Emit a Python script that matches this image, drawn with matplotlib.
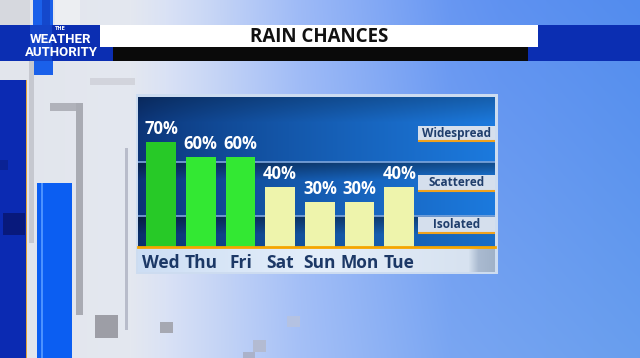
import numpy as np
import matplotlib
matplotlib.use('Agg')
import matplotlib.pyplot as plt
from matplotlib.patches import Rectangle

# chart data
days = ['Wed', 'Thu', 'Fri', 'Sat', 'Sun', 'Mon', 'Tue']
chances = [70, 60, 60, 40, 30, 30, 40]
bar_colors = ['#27c927', '#33e833', '#33e833', '#eef4ac', '#eef4ac', '#eef4ac', '#eef4ac']
levels = ['Widespread', 'Scattered', 'Isolated']
level_box_y = [70.5, 37.2, 9.2]   # bottom of each label box (percent scale)
level_lines = [56.7, 20.5]

W, H = 640, 358
fig = plt.figure(figsize=(6.4, 3.58), dpi=100)

# ---- background (pixel coordinates) ----
bg = fig.add_axes([0, 0, 1, 1])
bg.set_xlim(0, W)
bg.set_ylim(H, 0)
bg.axis('off')

xs = np.arange(W)
ys = np.arange(H)[:, None]
stops = [0, 130, 165, 300, 450, 640]
r = np.interp(xs, stops, [226, 228, 218, 165, 122, 104])
g = np.interp(xs, stops, [229, 232, 226, 192, 166, 158])
b = np.interp(xs, stops, [236, 240, 245, 247, 242, 238])
img = np.stack([np.tile(c, (H, 1)) for c in (r, g, b)], axis=-1)
wx = np.clip((xs - 200) / 300, 0, 1)[None, :]
top = (1 - ys / H)
img[..., 0] -= 22 * top * wx
img[..., 1] -= 18 * top * wx
bg.imshow(np.clip(img, 0, 255).astype(np.uint8), extent=(0, W, H, 0), aspect='auto', zorder=0)


def box(x0, y0, x1, y1, color, z=1, **kw):
    bg.add_patch(Rectangle((x0, y0), x1 - x0, y1 - y0, facecolor=color, edgecolor='none', zorder=z, **kw))


# left side decorations
box(0, 0, 30, 25, '#d6d8de')
box(55, 0, 80, 25, '#eceef2')
box(33, 0, 53, 25, '#1a60ea')
box(42, 0, 50, 25, '#1448cc')
box(33, 61, 53, 75, '#1a60ea')
box(0, 80, 26, 358, '#0b2ab2')
box(26, 80, 27, 358, '#e3a33a')
box(0, 160, 8, 170, '#0a2294')
box(3, 213, 25, 235, '#08197c')
box(29, 60, 34, 243, '#c6c8d0')
box(37, 183, 72, 358, '#0b5ef2')
box(41, 183, 43, 358, '#4b92ff')
box(50, 103, 83, 111, '#b0b2ba')
box(76, 103, 83, 315, '#a9abb3')
box(90, 78, 135, 85, '#d2d4dc')
box(125, 148, 128, 330, '#b8bcca')
box(95, 315, 118, 338, '#9d9ea6')
box(160, 322, 173, 333, '#a6a8b2')
box(253, 340, 266, 352, '#b3bbd2')
box(243, 352, 255, 358, '#aab2ca')
box(287, 316, 300, 327, '#b4c2e2')

# header band
box(0, 25, 640, 61, '#0b2eb2', z=2)
box(30, 25, 52, 61, '#1444c8', z=2)
box(100, 25, 538, 47, 'white', z=3)
box(113, 47, 528, 61, '#0a0a0a', z=3)
bg.text(319, 37, 'RAIN CHANCES', ha='center', va='center', fontsize=13.5,
        fontweight='bold', color='#111111', family=['Open Sans', 'DejaVu Sans'], zorder=4)
bg.text(60, 28.5, 'THE', ha='center', va='center', fontsize=3.5, fontweight='bold',
        color='white', zorder=4)
bg.text(61, 39.5, 'WEATHER', ha='center', va='center', fontsize=9.5, fontweight='bold',
        color='white', family=['Liberation Sans Narrow', 'Roboto', 'DejaVu Sans'], zorder=4)
bg.text(61, 52.5, 'AUTHORITY', ha='center', va='center', fontsize=9.5, fontweight='bold',
        color='white', family=['Liberation Sans Narrow', 'Roboto', 'DejaVu Sans'], zorder=4)

# chart panel frame and day strip
box(135.5, 94, 497.5, 274, '#cddcf0', z=2)
sx = np.arange(357)
sr = np.interp(sx, [0, 180, 330, 340, 357], [205, 228, 215, 170, 160])
sg = np.interp(sx, [0, 180, 330, 340, 357], [222, 238, 226, 186, 178])
sb = np.interp(sx, [0, 180, 330, 340, 357], [244, 250, 240, 208, 200])
strip = np.stack([np.tile(c, (24, 1)) for c in (sr, sg, sb)], axis=-1)
bg.imshow(strip.astype(np.uint8), extent=(138, 495, 272, 248), aspect='auto', zorder=3)

# ---- chart axes ----
ax = fig.add_axes([138 / W, (H - 246.7) / H, 357 / W, 150 / H])
ax.set_xlim(-0.58, 8.41)
ax.set_ylim(0, 100)
ax.patch.set_alpha(0)

# dark blue plot background with shaded bands
pw, ph = 357, 150
t = (np.arange(pw) / pw) ** 0.8
left = np.array([12, 52, 118])
right = np.array([28, 122, 222])
base = left[None, :] + (right - left)[None, :] * t[:, None]
fac = np.ones(ph)
rows = np.arange(ph)
fac *= 0.78 + 0.22 * np.clip(rows / 25, 0, 1)
for lv in level_lines:
    rr = int(round((100 - lv) / 100 * ph))
    d = rows - rr
    m = (d >= 0) & (d < 18)
    fac[m] *= 0.62 + 0.38 * d[m] / 18
fac[rows > (100 - level_lines[1]) / 100 * ph] *= 0.9
panel = base[None, :, :] * fac[:, None, None]
ax.imshow(np.clip(panel, 0, 255).astype(np.uint8), extent=(-0.58, 8.41, 0, 100),
          aspect='auto', zorder=0)
for lv in level_lines:
    ax.axhline(lv, color='#7ea6dc', lw=1.2, zorder=1)

x = np.arange(len(days))
ax.bar(x, chances, width=0.75, color=bar_colors, zorder=2)
for xi, v in zip(x, chances):
    ax.text(xi, v + 2.2, f'{v}%', ha='center', va='bottom', color='white', fontsize=12,
            fontweight='bold', family=['Open Sans', 'DejaVu Sans'], zorder=3)

for name, y0 in zip(levels, level_box_y):
    ax.add_patch(Rectangle((6.47, y0), 8.41 - 6.47, 10.3, facecolor='#d5dfed',
                           edgecolor='none', zorder=3))
    ax.plot([6.47, 8.41], [y0, y0], color='#f0a21e', lw=1.5, zorder=4, solid_capstyle='butt')
    ax.text((6.47 + 8.41) / 2, y0 + 5.3, name, ha='center', va='center', fontsize=8.5,
            fontweight='bold', color='#203e6c', family=['Open Sans', 'DejaVu Sans'], zorder=5)

for s in ['top', 'left', 'right']:
    ax.spines[s].set_visible(False)
ax.spines['bottom'].set_color('#f5a500')
ax.spines['bottom'].set_linewidth(2)
ax.set_yticks([])
ax.set_xticks(x)
ax.set_xticklabels(days, fontsize=12.5, fontweight='bold', color='#1c3866',
                   family=['Open Sans', 'DejaVu Sans'])
ax.tick_params(axis='x', length=0, pad=5)

fig.savefig('out.png', dpi=100)
